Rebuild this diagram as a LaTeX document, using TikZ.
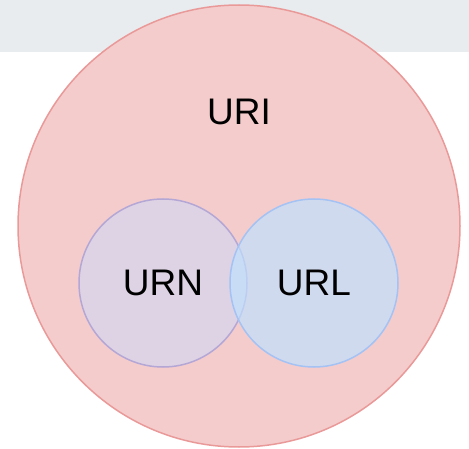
\documentclass[tikz,border=0pt]{standalone}
\usepackage{fontspec}
\setmainfont{Liberation Sans}
\usepackage{tikz}

\definecolor{bandgray}{HTML}{E8ECEE}
\definecolor{urifill}{HTML}{F4CCCC}
\definecolor{uriline}{HTML}{EA9999}
\definecolor{urnfill}{HTML}{DED3E4}
\definecolor{urnline}{HTML}{B4A7D6}
\definecolor{urlfill}{RGB}{191,225,255}
\definecolor{urlline}{HTML}{A4C2F4}

\begin{document}
\begin{tikzpicture}[x=1pt,y=-1pt,
  set/.style={circle,line width=1.5pt,inner sep=0pt},
  lbl/.style={font=\fontsize{37}{40}\selectfont,inner sep=0pt}]
  \useasboundingbox (0,0) rectangle (469,449);

  % grey band at the top
  \fill[bandgray] (0,0) rectangle (469,52);

  % outer set
  \node[set,draw=uriline,fill=urifill,minimum size=442pt] (uri) at (239,226) {};
  \node[lbl] (urilbl) at (239,112) {URI};

  % the two inner sets
  \node[set,draw=urnline,fill=urnfill,minimum size=168pt] (urn) at (163,283) {};
  \node[set,draw=urlline,fill=urlfill,fill opacity=0.68,minimum size=168pt] (url) at (314,283) {};

  \node[lbl] (urnlbl) at (urn) {URN};
  \node[lbl] (urllbl) at (url) {URL};
\end{tikzpicture}
\end{document}
